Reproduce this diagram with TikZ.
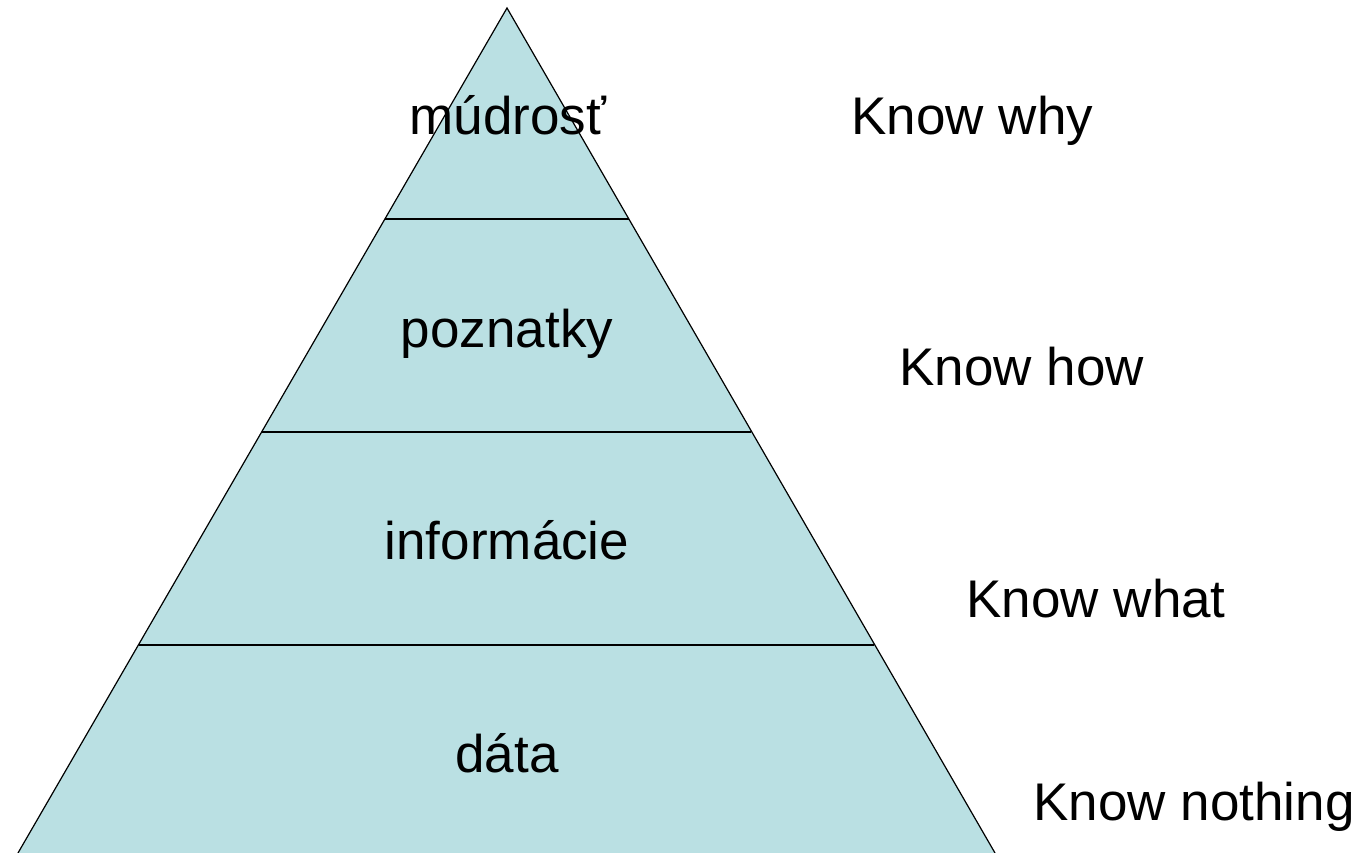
\documentclass[tikz,border=0pt]{standalone}
\usepackage{fontspec}
\setmainfont{Liberation Sans}
\usepackage{tikz}

\begin{document}
\begin{tikzpicture}[x=1pt, y=-1pt,
		level/.style={anchor=base, font=\fontsize{53}{60}\selectfont},
		know/.style={anchor=base west, font=\fontsize{53}{60}\selectfont}]
			\useasboundingbox (0,0) rectangle (1362,853);
			\definecolor{pyrblue}{HTML}{BAE0E3}
			%%%%%%%%%%%%%%%%%%%%%%%%%%%%%%%%
			\coordinate (apex) at (507,8);
			\coordinate (baseL) at (18,853);
			\coordinate (baseR) at (995,853);
			\fill[pyrblue] (baseL)--(apex)--(baseR)--cycle;
			\draw[line width=1.2pt] (baseL)--(apex)--(baseR);
			%%%%%%%%%%%%%%%%%%%%%%%%%%%%%%%%
			\coordinate (l1) at (385,219);  \coordinate (r1) at (629,219);
			\coordinate (l2) at (262,432);  \coordinate (r2) at (751,432);
			\coordinate (l3) at (139,645);  \coordinate (r3) at (874,645);
			\draw[line width=1.2pt] (l1)--(r1);
			\draw[line width=1.2pt] (l2)--(r2);
			\draw[line width=1.2pt] (l3)--(r3);
			%%%%%%%%%%%%%%%%%%%%%%%%%%%%%
			\node[level] (wisdom) at (508,135){múdrosť};
			\node[level] (knowledge) at (507,347){poznatky};
			\node[level] (info) at (507,559){informácie};
			\node[level] (data) at (507,772){dáta};
			%%%%%%%%%%%%%%%%%%%%%%%%%%%%%
			\node[know] (why) at (848,135){Know why};
			\node[know] (how) at (896,385){Know how};
			\node[know] (what) at (963,617){Know what};
			\node[know] (nothing) at (1030,820){Know nothing};
		\end{tikzpicture}
\end{document}
